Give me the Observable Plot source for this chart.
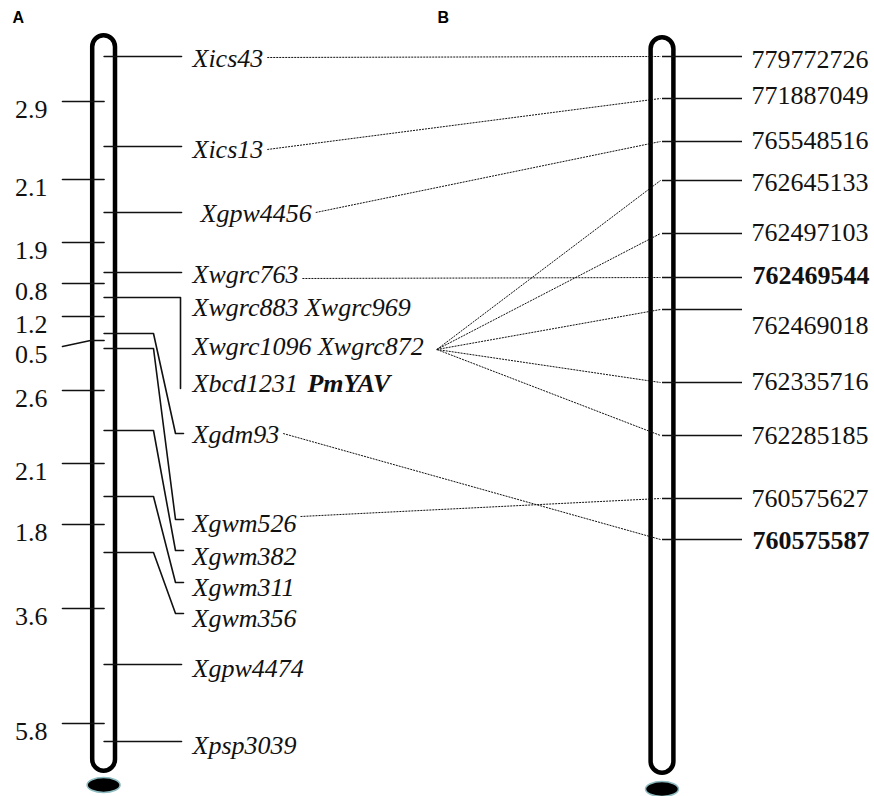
<!DOCTYPE html>
<html><head><meta charset="utf-8">
<script src="https://cdn.jsdelivr.net/npm/d3@7"></script>
<script src="https://cdn.jsdelivr.net/npm/@observablehq/plot@0.6"></script>
<style>body{margin:0;background:#fff}#chart svg{display:block}</style>
</head><body><div id="chart"></div>
<script>
// ---------- DATA (positions are schematic map positions) ----------
// Chromosome A (genetic map)
const lociA       = ["Xics43","Xics13","Xgpw4456","Xwgrc763","Xwgrc883","Xgdm93","Xgwm526","Xgwm382","Xgwm311","Xgwm356","Xgpw4474","Xpsp3039"];
const lociPosA    = [56, 146, 212, 272, 297, 333, 348, 430, 496, 552, 664, 741];
const leaderEndA  = [56, 146, 212, 272, 388, 433, 519, 550, 582, 613, 664, 741];
const leaderKindA = ["h","h","h","h","bracket","bend","bend","bend","bend","bend","h","h"];
const labelRowsA  = ["Xics43","Xics13","Xgpw4456","Xwgrc763","Xwgrc883 Xwgrc969","Xwgrc1096 Xwgrc872","Xbcd1231","Xgdm93","Xgwm526","Xgwm382","Xgwm311","Xgwm356","Xgpw4474","Xpsp3039"];
const labelPosA   = [58, 149, 213, 274, 307, 346, 383, 434, 523, 556, 587, 618, 668, 745];
const labelIndentA= [0, 0, 8, 0, 0, 0, 0, 0, 0, 0, 0, 0, 0, 0];
const geneLabel   = "PmYAV";
// genetic distances (cM) between adjacent loci
const intervalsA      = [2.9, 2.1, 1.9, 0.8, 1.2, 0.5, 2.6, 2.1, 1.8, 3.6, 5.8];
const intervalPosA    = [101, 179, 242, 283, 316, 340, 390, 463, 524, 608, 723];
const intervalLeftPosA= [101, 179, 242, 283, 316, 346, 390, 463, 524, 608, 723];

// Chromosome B (physical map, bp)
const physB      = [779772726, 771887049, 765548516, 762645133, 762497103, 762469544, 762469018, 762335716, 762285185, 760575627, 760575587];
const physPosB   = [56, 98, 141, 180, 233, 277, 309, 382, 435, 498, 539];
const physLabelB = [59, 95, 140, 182, 232, 275, 325, 381, 435, 498, 540];
const boldB      = [762469544, 760575587];

// correspondences between A labels and B positions
const linkFrom  = ["Xics43","Xics13","Xgpw4456","Xwgrc1096 Xwgrc872","Xwgrc1096 Xwgrc872","Xwgrc763","Xwgrc1096 Xwgrc872","Xwgrc1096 Xwgrc872","Xwgrc1096 Xwgrc872","Xgwm526","Xgdm93"];
const linkTo    = [779772726, 771887049, 765548516, 762645133, 762497103, 762469544, 762469018, 762335716, 762285185, 760575627, 760575587];
const linkFromY = [57, 149, 212, 349, 349, 278, 349, 349, 349, 516, 433];

// chromosome extents and centromeres
const chromNames = ["A","B"];
const chromTop   = [33, 35];
const chromBot   = [773, 775];
const chromCen   = [785, 789];

// ---------- LAYOUT ----------
const W = 874, H = 796;
const cx = {A: 103.6, B: 662};
const half = 11.4, sw = 4.5;
const serif = "Liberation Serif, Times New Roman, serif";
const sans = "Liberation Sans, Arial, sans-serif";
const FS = 26;
const labelX = 192;
const ctx = document.createElement("canvas").getContext("2d");
const tw = (s, font) => { ctx.font = font; return ctx.measureText(s).width; };
const italicFont = `italic ${FS}px "Liberation Serif"`;

const chroms = chromNames.map((n, i) => ({n, c: cx[n], top: chromTop[i], bot: chromBot[i], cen: chromCen[i]}));

// A leader polylines
const leaderPts = [];
lociA.forEach((name, i) => {
  const y = lociPosA[i], e = leaderEndA[i], k = leaderKindA[i];
  let pts;
  if (k === "h") pts = [[cx.A, y], [181, y]];
  else if (k === "bracket") pts = [[cx.A, y], [180, y], [180, e]];
  else pts = [[cx.A, y], [153, y], [175, e], [183, e]];
  pts.forEach(([x, yy]) => leaderPts.push({id: name, x, y: yy}));
});

// interval ticks
const tickPts = [];
intervalsA.forEach((v, i) => {
  tickPts.push({id: i, x: 62, y: intervalLeftPosA[i]});
  tickPts.push({id: i, x: 90, y: intervalPosA[i]});
  tickPts.push({id: i, x: cx.A, y: intervalPosA[i]});
});
const intervalLabels = intervalsA.map((v, i) => ({t: v.toFixed(1), y: intervalLeftPosA[i] + 8}));

const rowsA = labelRowsA.map((t, i) => ({t, y: labelPosA[i], x: labelX + labelIndentA[i]}));
const rowOf = Object.fromEntries(rowsA.map(r => [r.t, r]));
const geneRow = rowOf["Xbcd1231"];
const geneX = geneRow.x + tw("Xbcd1231 ", italicFont) + 3;

const rowsB = physB.map((p, i) => ({t: String(p), p, y: physLabelB[i], pos: physPosB[i], bold: boldB.includes(p)}));
const posOfB = Object.fromEntries(physB.map((p, i) => [p, physPosB[i]]));

const links = linkFrom.map((f, i) => {
  const r = rowOf[f];
  const gap = f === "Xwgrc1096 Xwgrc872" ? 13 : 4;
  return {x1: r.x + tw(r.t, italicFont) + gap, y1: linkFromY[i], x2: cx.B - 2, y2: posOfB[linkTo[i]]};
});

const chart = Plot.plot({
  width: W, height: H, margin: 0,
  x: {type: "linear", domain: [0, W], range: [0, W], axis: null},
  y: {type: "linear", domain: [0, H], range: [0, H], axis: null},
  style: {background: "white"},
  marks: [
    Plot.rect(chroms, {x1: d => d.c - 16.5, x2: d => d.c + 16.5, y1: d => d.cen - 7.5, y2: d => d.cen + 7.5,
      rx: 16.5, ry: 7.5, fill: "black", stroke: "#8fbcc0", strokeWidth: 1.5}),
    Plot.rect(chroms, {x1: d => d.c - half, x2: d => d.c + half, y1: d => d.top + sw / 2, y2: d => d.bot - sw / 2,
      rx: half, ry: half, fill: "none", stroke: "black", strokeWidth: sw}),
    Plot.link(links, {x1: "x1", y1: "y1", x2: "x2", y2: "y2", stroke: "#111", strokeWidth: 1, strokeDasharray: "2,1"}),
    Plot.line(tickPts, {x: "x", y: "y", z: "id", stroke: "#111", strokeWidth: 1.6}),
    Plot.text(intervalLabels, {x: 47, y: "y", text: "t", textAnchor: "end", lineAnchor: "middle",
      fontFamily: serif, fontSize: FS, fill: "#111"}),
    Plot.line(leaderPts, {x: "x", y: "y", z: "id", stroke: "#111", strokeWidth: 1.6}),
    Plot.text(rowsA, {x: "x", y: "y", text: "t", textAnchor: "start", lineAnchor: "middle",
      fontFamily: serif, fontStyle: "italic", fontSize: FS, fill: "#111"}),
    Plot.text([geneLabel], {x: geneX, y: geneRow.y, text: d => d, textAnchor: "start", lineAnchor: "middle",
      fontFamily: serif, fontStyle: "italic", fontWeight: "bold", fontSize: FS, fill: "#111"}),
    Plot.ruleY(rowsB, {y: "pos", x1: cx.B, x2: 742, stroke: "#111", strokeWidth: 1.6}),
    Plot.text(rowsB.filter(d => !d.bold), {x: 751, y: "y", text: "t", textAnchor: "start", lineAnchor: "middle",
      fontFamily: serif, fontSize: FS, fill: "#111"}),
    Plot.text(rowsB.filter(d => d.bold), {x: 752, y: "y", text: "t", textAnchor: "start", lineAnchor: "middle",
      fontFamily: serif, fontWeight: "bold", fontSize: FS, fill: "#111"}),
    Plot.text(chromNames, {x: d => d === "A" ? 12 : 437, y: 17, text: d => d, textAnchor: "start", lineAnchor: "middle",
      fontFamily: sans, fontWeight: "bold", fontSize: 16, fill: "black"})
  ]
});
document.getElementById("chart").appendChild(chart);
</script></body></html>
